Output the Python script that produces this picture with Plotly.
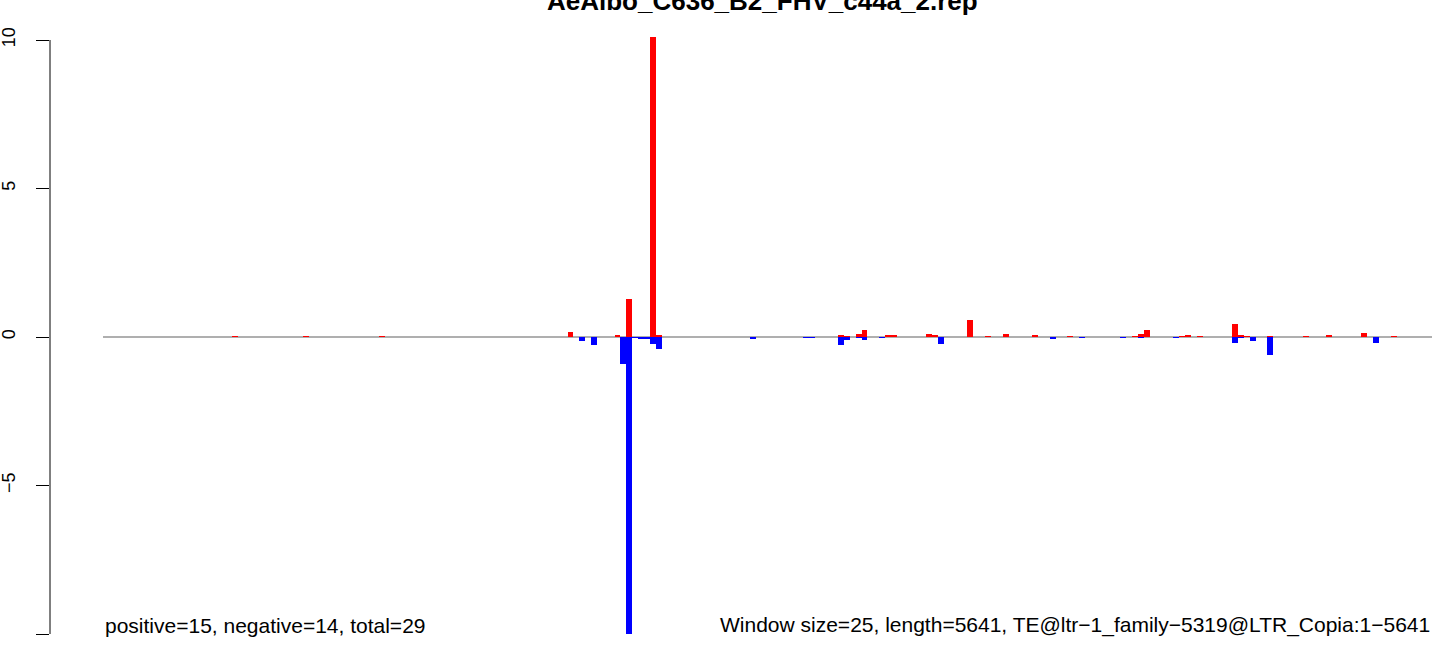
import plotly.graph_objects as go

# ---- data ----
title_text = "AeAlbo_C636_B2_FHV_c44a_2.rep"
n_windows = 226  # length 5641 / window size 25

pos_windows = [22, 34, 47, 79, 87, 89, 93, 94, 125, 126, 128, 129, 133, 134, 140, 141, 147, 150,
               153, 158, 164, 175, 176, 177, 183, 184, 186, 192, 193, 194, 198, 204, 208, 214, 219]
pos_values = [0.03, 0.03, 0.03, 0.17, 0.07, 1.28, 10.1, 0.07, 0.07, 0.03, 0.10, 0.23, 0.07, 0.07, 0.10, 0.07, 0.57, 0.03,
              0.10, 0.07, 0.03, 0.03, 0.10, 0.23, 0.03, 0.07, 0.03, 0.43, 0.07, 0.03, 0.03, 0.03, 0.07, 0.13, 0.03]

neg_windows = [81, 83, 88, 89, 90, 91, 92, 93, 94, 110, 119, 120, 125, 126, 128, 129, 132, 142,
               161, 166, 173, 176, 182, 192, 193, 195, 198, 216]
neg_values = [-0.13, -0.27, -0.90, -10.0, -0.03, -0.06, -0.06, -0.23, -0.42, -0.06, -0.03, -0.03, -0.26, -0.09, -0.02, -0.09, -0.02, -0.22,
              -0.07, -0.03, -0.03, -0.03, -0.03, -0.20, -0.03, -0.13, -0.60, -0.20]

y_ticks = [-10, -5, 0, 5, 10]
y_ticktext = ["\u221210", "\u22125", "0", "5", "10"]

left_note = "positive=15, negative=14, total=29"
right_note = "Window size=25, length=5641, TE@ltr\u22121_family\u22125319@LTR_Copia:1\u22125641"

# ---- build full series ----
pos_full = [0.0] * n_windows
for i, v in zip(pos_windows, pos_values):
    pos_full[i] = v
neg_full = [0.0] * n_windows
for i, v in zip(neg_windows, neg_values):
    neg_full[i] = v
x_centers = [i + 0.5 for i in range(n_windows)]

FONT = "Liberation Sans, Arial, sans-serif"

fig = go.Figure()
fig.add_trace(go.Bar(x=x_centers, y=pos_full, width=1.0, marker=dict(color="#FF0000", line=dict(width=0)),
                     showlegend=False, hoverinfo="skip"))
fig.add_trace(go.Bar(x=x_centers, y=neg_full, width=1.0, marker=dict(color="#0000FF", line=dict(width=0)),
                     showlegend=False, hoverinfo="skip"))

# zero line across the windows
fig.add_shape(type="line", xref="x", yref="y", x0=0, x1=n_windows, y0=0, y1=0,
              line=dict(color="#606060", width=1.2), layer="below")
# y axis line (R style: only from first to last tick)
fig.add_shape(type="line", xref="paper", yref="y", x0=0, x1=0, y0=y_ticks[0], y1=y_ticks[-1],
              line=dict(color="black", width=1))

# text notes at bottom
fig.add_annotation(x=0, y=-9.7, xref="x", yref="y", text=left_note, showarrow=False,
                   xanchor="left", yanchor="middle", font=dict(family=FONT, size=21, color="black"))
fig.add_annotation(x=n_windows, y=-9.7, xref="x", yref="y", text=right_note, showarrow=False,
                   xanchor="right", yanchor="middle", font=dict(family=FONT, size=21, color="black"))
# title
fig.add_annotation(x=0.5, xref="paper", y=1.0, yref="paper", yshift=2, xshift=21,
                   text="<b>" + title_text + "</b>",
                   showarrow=False, xanchor="center", yanchor="bottom",
                   font=dict(family=FONT, size=26, color="black"))

px_per_unit_x = (1432 - 103) / n_windows
fig.update_layout(
    width=1433, height=646,
    margin=dict(l=50, r=0, t=20, b=0, autoexpand=False),
    paper_bgcolor="white", plot_bgcolor="white",
    barmode="overlay", bargap=0,
    xaxis=dict(range=[-53 / px_per_unit_x, n_windows + 1 / px_per_unit_x], visible=False,
               fixedrange=True, automargin=False),
    yaxis=dict(range=[-10 - 12 / 29.7, 10 + 20 / 29.7], tickvals=y_ticks, ticktext=y_ticktext,
               ticks="outside", ticklen=13, tickcolor="black", tickwidth=1, tickangle=-90,
               showgrid=False, zeroline=False, showline=False, automargin=False,
               tickfont=dict(family=FONT, size=18, color="black"), ticklabelstandoff=14),
    font=dict(family=FONT),
)

fig.write_html("out.html", config={"displayModeBar": False})

# remove the browser's default page margin so the figure sits at the top-left corner
with open("out.html", "r", encoding="utf-8") as f:
    html = f.read()
html = html.replace("<head>", "<head><style>html,body{margin:0;padding:0;overflow:hidden;}</style>", 1)
with open("out.html", "w", encoding="utf-8") as f:
    f.write(html)
